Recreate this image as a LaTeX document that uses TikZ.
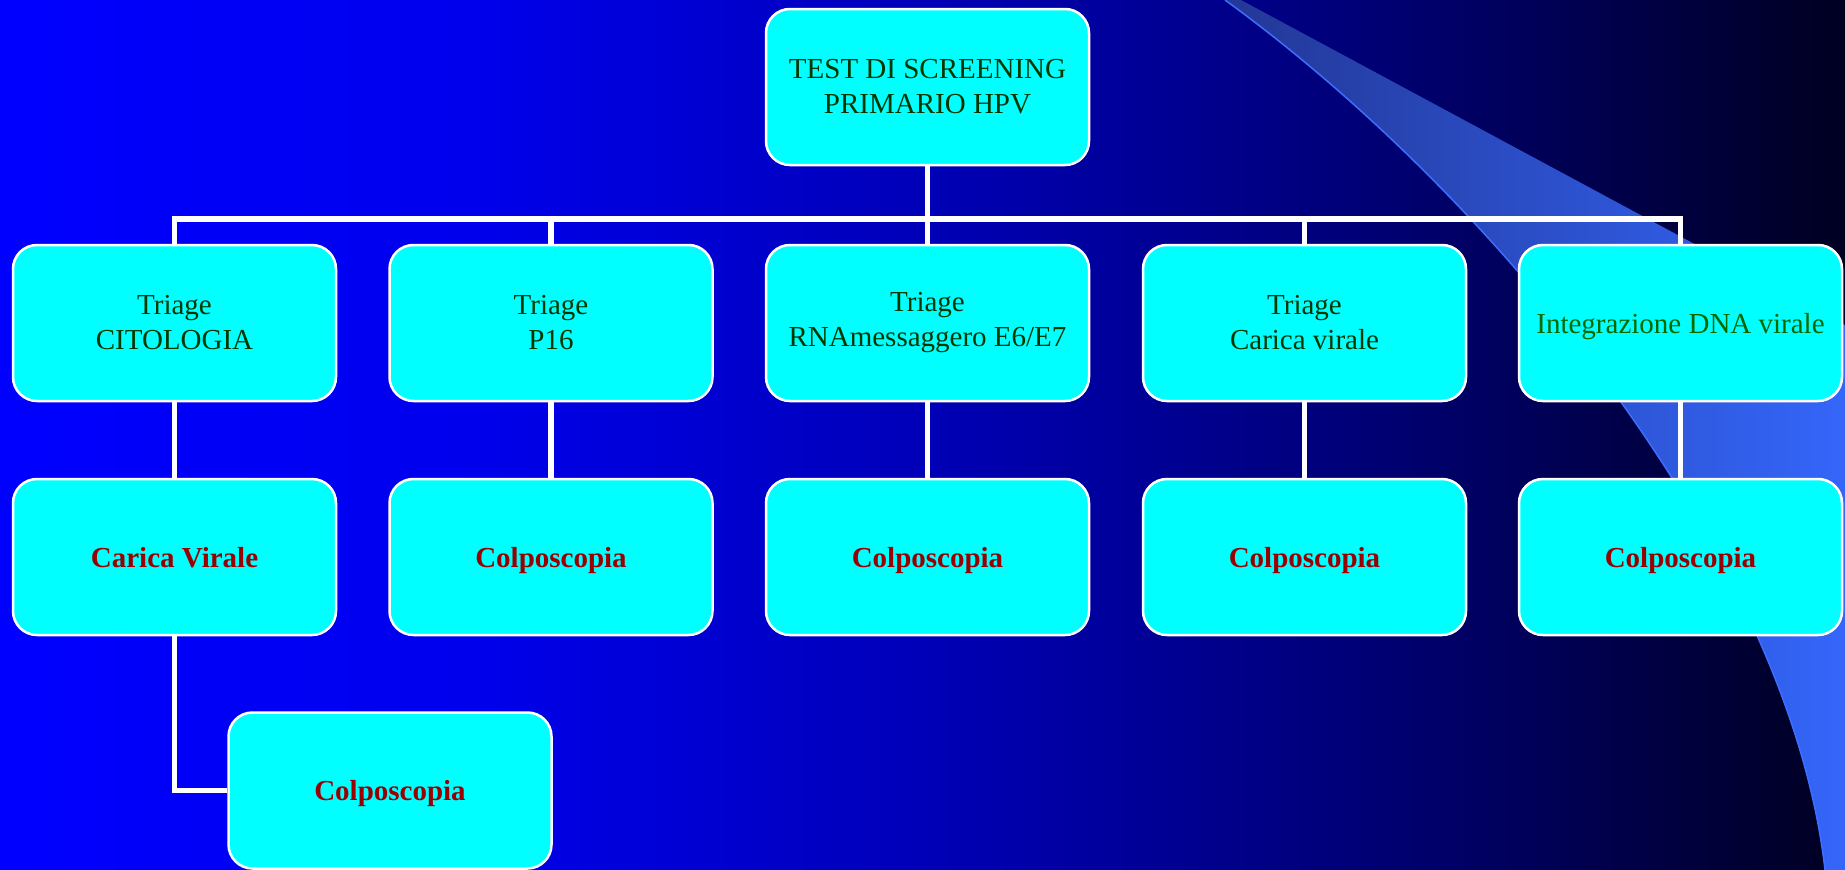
\documentclass[tikz,border=0pt]{standalone}
\usepackage{fontspec}
\setmainfont{Liberation Serif}
\definecolor{boxcyan}{RGB}{0,255,255}
\definecolor{dkgreen}{RGB}{0,55,0}
\definecolor{midgreen}{RGB}{0,105,0}
\definecolor{dkred}{RGB}{155,0,0}
\definecolor{swA}{RGB}{35,55,150}
\definecolor{swB}{RGB}{52,102,250}
\definecolor{swEdge}{RGB}{60,110,255}
\pgfdeclarehorizontalshading{bgshade}{100bp}{rgb(0bp)=(0,0,1); rgb(25bp)=(0,0,1); rgb(37.5bp)=(0,0,0.93); rgb(50bp)=(0,0,0.72); rgb(62.5bp)=(0,0,0.45); rgb(75bp)=(0,0,0.13); rgb(100bp)=(0,0,0.13)}
\tikzset{
  boxnode/.style={rectangle, rounded corners=24pt, fill=boxcyan, draw=white, line width=2.5pt,
    minimum width=323pt, minimum height=156pt, inner sep=0pt, align=center,
    font=\fontsize{29}{35}\selectfont},
  triagetext/.style={text=dkgreen},
  oneline/.style={text depth=0pt},
  finaltext/.style={text=dkred, oneline, font=\fontsize{29}{35}\selectfont\bfseries},
  conn/.style={draw=white, line width=5.5pt}
}
\begin{document}
\begin{tikzpicture}[x=1pt,y=-1pt]
\useasboundingbox (0,0) rectangle (1845,870);
% background
\shade[shading=bgshade] (0,0) rectangle (1845,870);
% swoosh
\shade[left color=swA, right color=swB] (1225,0) .. controls (1500,200) and (1790,560) .. (1825,870) -- (1845,870) -- (1845,325) -- (1241,0) -- cycle;
\draw[swEdge, line width=1.5pt] (1225,0) .. controls (1500,200) and (1790,560) .. (1825,870);
% nodes
\node[boxnode, triagetext] (top) at (927.5,87) {TEST DI SCREENING\\PRIMARIO HPV};
\node[boxnode, triagetext] (t1) at (174.5,323) {Triage\\CITOLOGIA};
\node[boxnode, triagetext] (t2) at (551,323) {Triage\\P16};
\node[boxnode, triagetext] (t3) at (927.5,323) {Triage\\RNAmessaggero E6/E7};
\node[boxnode, triagetext] (t4) at (1304.5,323) {Triage\\Carica virale};
\node[boxnode, text=midgreen, oneline] (t5) at (1680.5,323) {Integrazione DNA virale};
\node[boxnode, finaltext] (c1) at (174.5,557) {Carica Virale};
\node[boxnode, finaltext] (c2) at (551,557) {Colposcopia};
\node[boxnode, finaltext] (c3) at (927.5,557) {Colposcopia};
\node[boxnode, finaltext] (c4) at (1304.5,557) {Colposcopia};
\node[boxnode, finaltext] (c5) at (1680.5,557) {Colposcopia};
\node[boxnode, finaltext] (c6) at (390,790.5) {Colposcopia};
% connectors
\coordinate (bus) at (0,219);
\draw[conn] (t1.north) -- (t1.north |- bus) -- (t5.north |- bus) -- (t5.north);
\draw[conn] (top.south) -- (top.south |- bus);
\draw[conn] (t2.north) -- (t2.north |- bus);
\draw[conn] (t3.north) -- (t3.north |- bus);
\draw[conn] (t4.north) -- (t4.north |- bus);
\draw[conn] (t1.south) -- (c1.north);
\draw[conn] (t2.south) -- (c2.north);
\draw[conn] (t3.south) -- (c3.north);
\draw[conn] (t4.south) -- (c4.north);
\draw[conn] (t5.south) -- (c5.north);
\draw[conn] (c1.south) |- (c6.west);
\end{tikzpicture}
\end{document}
